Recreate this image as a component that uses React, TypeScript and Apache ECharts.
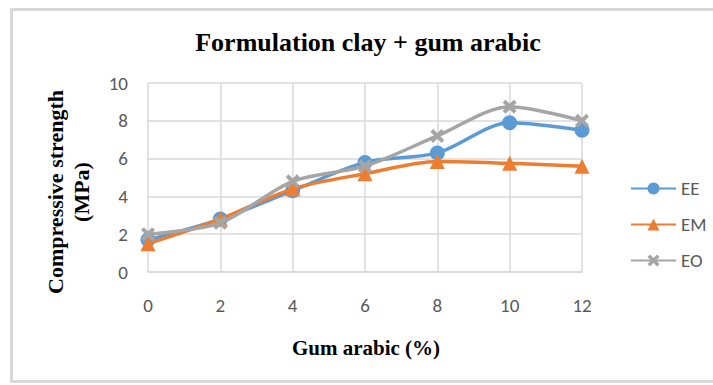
import React, { useEffect, useRef } from "react";
import * as echarts from "echarts";

const gumArabic = [0, 2, 4, 6, 8, 10, 12];
const eeValues = [1.7, 2.8, 4.3, 5.8, 6.3, 7.9, 7.5];
const emValues = [1.5, 2.8, 4.4, 5.2, 5.85, 5.75, 5.6];
const eoValues = [2.0, 2.6, 4.8, 5.6, 7.2, 8.75, 8.0];
const seriesNames = ["EE", "EM", "EO"];
const titleText = "Formulation clay + gum arabic";
const xTitle = "Gum arabic (%)";
const yTitle = "Compressive strength\n(MPa)";

const crossPath =
  "path://M2,0 L5,3 L8,0 L10,2 L7,5 L10,8 L8,10 L5,7 L2,10 L0,8 L3,5 L0,2 Z";

const tickFont = "Carlito, Calibri, 'Noto Sans', sans-serif";
const serifFont = "'Liberation Serif', 'Times New Roman', serif";

export default function App() {
  const ref = useRef<HTMLDivElement>(null);
  useEffect(() => {
    if (!ref.current) return;
    const chart = echarts.init(ref.current, null, { renderer: "svg" });
    const pair = (vals: number[]) => gumArabic.map((x, i) => [x, vals[i]]);
    chart.setOption({
      animation: false,
      backgroundColor: "#ffffff",
      grid: { left: 148, right: 131, top: 83, bottom: 113 },
      xAxis: {
        type: "value",
        min: 0,
        max: 12,
        interval: 2,
        axisLine: { show: true, lineStyle: { color: "#d9d9d9", width: 1.5 } },
        axisTick: { show: false },
        splitLine: { show: true, lineStyle: { color: "#d9d9d9", width: 1.5 } },
        axisLabel: { color: "#595959", fontSize: 19, fontFamily: tickFont, margin: 24 },
      },
      yAxis: {
        type: "value",
        min: 0,
        max: 10,
        interval: 2,
        axisLine: { show: false },
        axisTick: { show: false },
        splitLine: { show: true, lineStyle: { color: "#d9d9d9", width: 1.5 } },
        axisLabel: { color: "#595959", fontSize: 19, fontFamily: tickFont, margin: 20 },
      },
      legend: {
        orient: "vertical",
        left: 625,
        top: 174,
        itemGap: 17,
        itemWidth: 45,
        itemHeight: 15,
        textStyle: { color: "#595959", fontSize: 19, fontFamily: tickFont },
        data: seriesNames,
      },
      series: [
        {
          name: seriesNames[0],
          type: "line",
          data: pair(eeValues),
          smooth: 0.3,
          symbol: "circle",
          symbolSize: 15,
          lineStyle: { color: "#5B9BD5", width: 3.5 },
          itemStyle: { color: "#5B9BD5" },
          z: 3,
        },
        {
          name: seriesNames[1],
          type: "line",
          data: pair(emValues),
          smooth: 0.3,
          symbol: "triangle",
          symbolSize: 15,
          lineStyle: { color: "#ED7D31", width: 3.5 },
          itemStyle: { color: "#ED7D31" },
          z: 4,
        },
        {
          name: seriesNames[2],
          type: "line",
          data: pair(eoValues),
          smooth: 0.3,
          symbol: crossPath,
          symbolSize: 14,
          lineStyle: { color: "#A5A5A5", width: 3.5 },
          itemStyle: { color: "#A5A5A5" },
          z: 5,
        },
      ],
      graphic: [
        {
          type: "rect",
          shape: { x: 11.5, y: 9.5, width: 720, height: 372 },
          style: { fill: "none", stroke: "#d9d9d9", lineWidth: 3 },
          silent: true,
          z: -1,
        },
        {
          type: "text",
          x: 368,
          y: 42,
          style: {
            text: titleText,
            font: `bold 26px ${serifFont}`,
            fill: "#000000",
            align: "center",
            verticalAlign: "middle",
          },
        },
        {
          type: "text",
          x: 366,
          y: 348,
          style: {
            text: xTitle,
            font: `bold 21px ${serifFont}`,
            fill: "#000000",
            align: "center",
            verticalAlign: "middle",
          },
        },
        {
          type: "text",
          x: 68,
          y: 192,
          rotation: Math.PI / 2,
          style: {
            text: yTitle,
            font: `bold 22px ${serifFont}`,
            lineHeight: 26,
            fill: "#000000",
            align: "center",
            verticalAlign: "middle",
          },
        },
      ],
    });
    return () => chart.dispose();
  }, []);
  return (
    <div
      ref={ref}
      style={{ position: "absolute", left: 0, top: 0, width: 713, height: 385 }}
    />
  );
}
